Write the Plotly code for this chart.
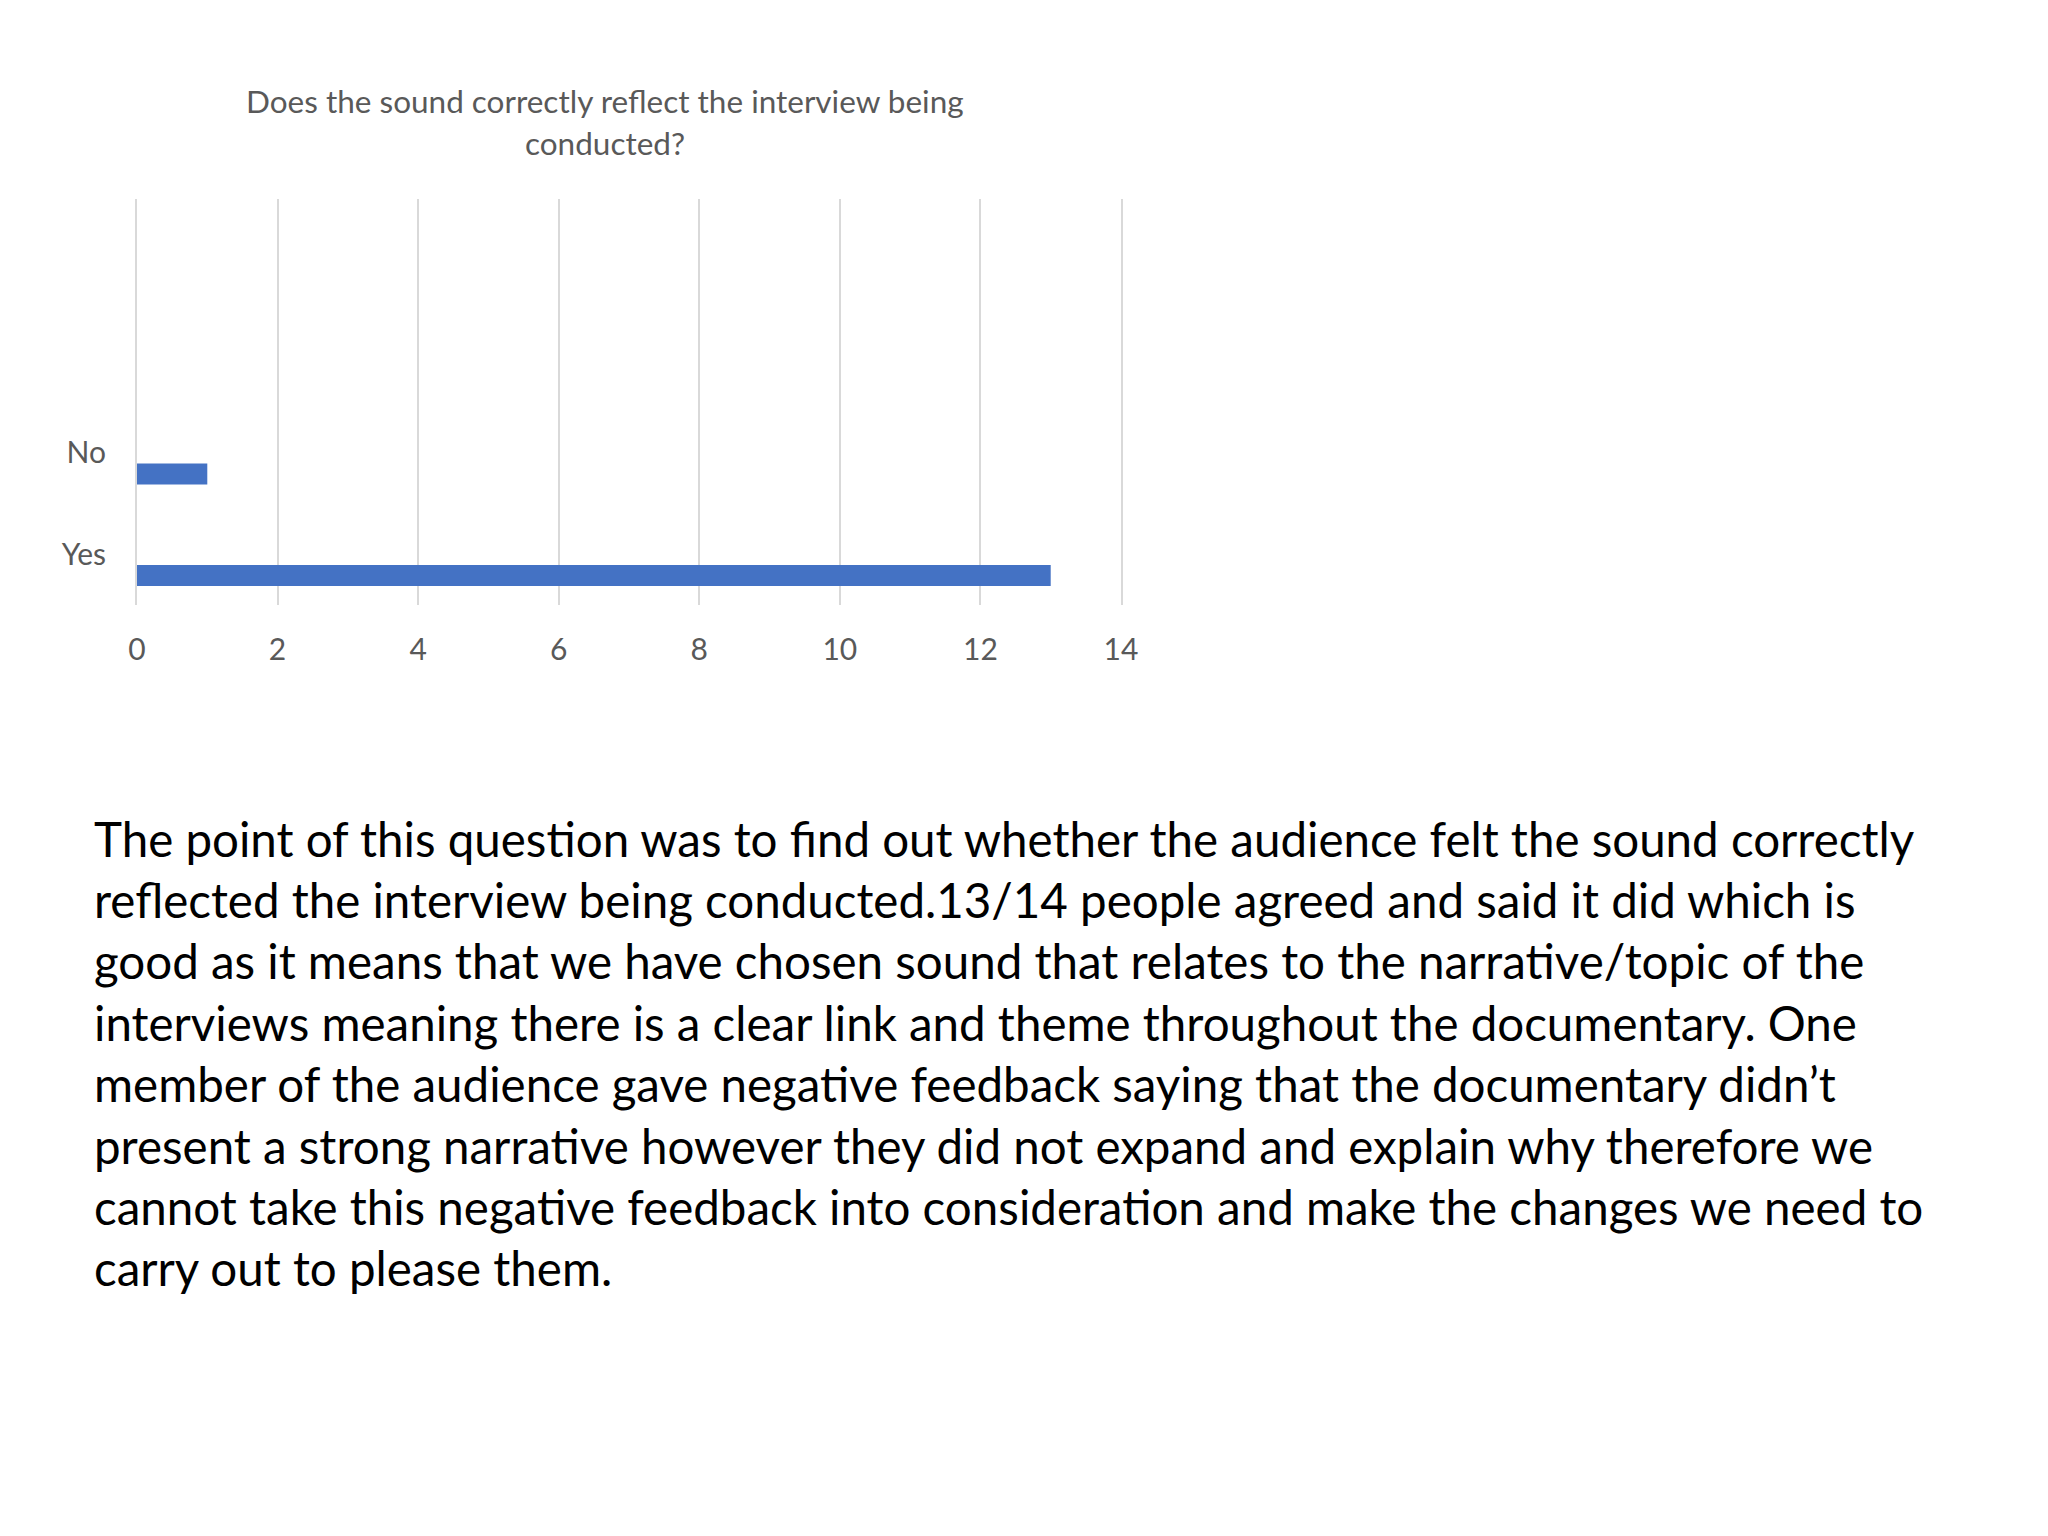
import plotly.graph_objects as go

categories = ["Yes", "No"]
values = [13, 1]
x_ticks = [0, 2, 4, 6, 8, 10, 12, 14]

title_lines = ["Does the sound correctly reflect the interview being", "conducted?"]

paragraph_lines = [
    "The point of this question was to find out whether the audience felt the sound correctly",
    "reflected the interview being conducted.13/14 people agreed and said it did which is",
    "good as it means that we have chosen sound that relates to the narrative/topic of the",
    "interviews meaning there is a clear link and theme throughout the documentary. One",
    "member of the audience gave negative feedback saying that the documentary didn\u2019t",
    "present a strong narrative however they did not expand and explain why therefore we",
    "cannot take this negative feedback into consideration and make the changes we need to",
    "carry out to please them.",
]

W, H = 2048, 1536
FONT = "Lato"
OFF = 8  # page body margin

fig = go.Figure()
fig.add_trace(go.Bar(
    y=categories, x=values, orientation="h",
    marker=dict(color="#4472C4", line=dict(width=0)),
    width=0.207, offset=-0.3135,
    hoverinfo="x+y",
))

fig.update_layout(
    width=W, height=H,
    margin=dict(l=0, r=0, t=0, b=0, pad=0),
    paper_bgcolor="white", plot_bgcolor="white",
    showlegend=False,
    font=dict(family=FONT, color="#595959"),
    xaxis=dict(
        domain=[(137 - OFF) / W, (1121 - OFF) / W],
        range=[0, 14], tickvals=x_ticks, showgrid=True, gridcolor="#d9d9d9", gridwidth=2,
        zeroline=False, showline=False, ticks="", tickfont=dict(size=30, color="#595959"),
        ticklabelstandoff=24, fixedrange=True, automargin=False,
    ),
    yaxis=dict(
        domain=[1 - (605 - OFF) / H, 1 - (199 - OFF) / H],
        type="category", categoryorder="array", categoryarray=categories,
        range=[-0.5, 3.5], showgrid=False, zeroline=False,
        showline=True, mirror=True, linecolor="#d9d9d9", linewidth=2, ticks="",
        tickfont=dict(size=30, color="#595959"), ticklabelstandoff=23, fixedrange=True,
        automargin=False,
    ),
)

title_y = [102 - 9, 144 - 9]
for txt, ypx in zip(title_lines, title_y):
    fig.add_annotation(
        text=txt, xref="paper", yref="paper", x=(605 - 8) / W, y=1 - ypx / H,
        xanchor="center", yanchor="middle", showarrow=False,
        font=dict(family=FONT, size=31.5, color="#595959"),
    )

for i, txt in enumerate(paragraph_lines):
    ypx = 830 + i * 61.4
    fig.add_annotation(
        text=txt, xref="paper", yref="paper", x=83.5 / W, y=1 - ypx / H,
        xanchor="left", yanchor="middle", showarrow=False,
        font=dict(family=FONT, size=47.5, color="#000000"),
    )

fig.write_html("out.html")
